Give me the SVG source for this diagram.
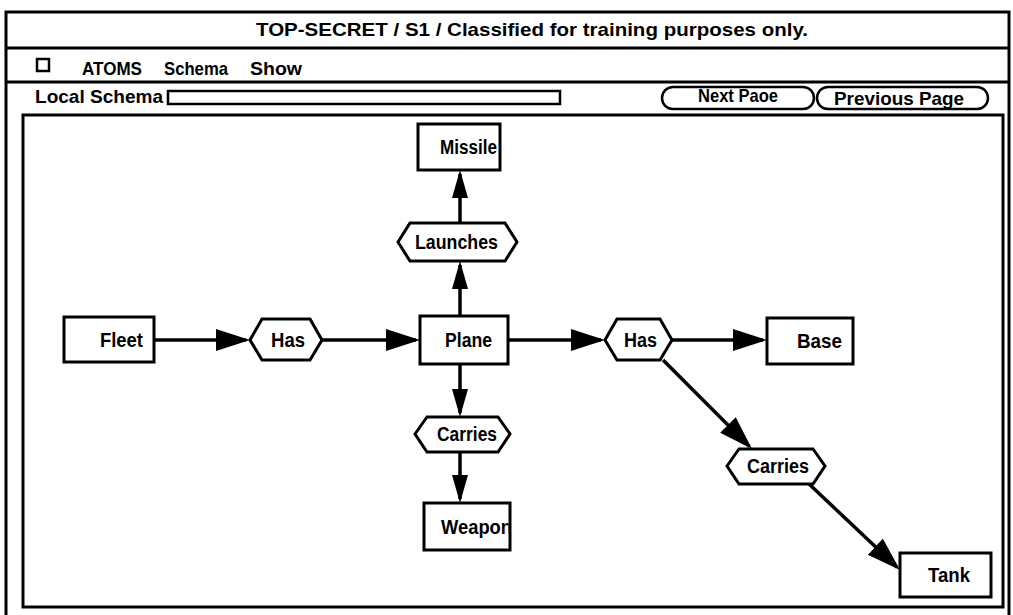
<svg xmlns="http://www.w3.org/2000/svg" width="1013" height="615" viewBox="0 0 1013 615">
<defs>
<style>
.frame{fill:none;stroke:#000;stroke-width:3}
.box{fill:#fff;stroke:#000;stroke-width:3}
.edge{fill:none;stroke:#000;stroke-width:3.5}
.t{font-family:"Liberation Sans",Arial,sans-serif;font-weight:bold;fill:#000}
.lbl{font-size:20px}
.ui{font-size:19px}
.ctl{fill:#fff;stroke:#000;stroke-width:2.5}
</style>
<marker id="big" markerUnits="userSpaceOnUse" markerWidth="36" markerHeight="24" refX="30" refY="11" orient="auto">
<path d="M0,0 L34,11 L0,22 z" fill="#000"/>
</marker>
<marker id="small" markerUnits="userSpaceOnUse" markerWidth="30" markerHeight="18" refX="24" refY="8" orient="auto">
<path d="M0,0 L28,8 L0,16 z" fill="#000"/>
</marker>
<clipPath id="clipWeapon"><rect x="424" y="503" width="84.5" height="47"/></clipPath>
</defs>
<rect width="1013" height="615" fill="#fff"/>

<g id="window">
<path class="frame" d="M6,615 V12 H1009 V615"/>
<line class="frame" x1="6" y1="48" x2="1009" y2="48"/>
<line class="frame" x1="6" y1="82" x2="1009" y2="82"/>
<text class="t ui" x="256" y="36" font-size="18" textLength="552" lengthAdjust="spacingAndGlyphs">TOP-SECRET / S1 / Classified for training purposes only.</text>
<rect class="ctl" x="37" y="59" width="12" height="12"/>
<text class="t ui" x="82" y="75" textLength="60" lengthAdjust="spacingAndGlyphs">ATOMS</text>
<text class="t ui" x="164" y="75" textLength="64" lengthAdjust="spacingAndGlyphs">Schema</text>
<text class="t ui" x="250" y="75" textLength="52" lengthAdjust="spacingAndGlyphs">Show</text>
<text class="t ui" x="35" y="103" textLength="128" lengthAdjust="spacingAndGlyphs">Local Schema</text>
<rect class="ctl" x="168" y="91" width="392" height="13"/>
<rect class="ctl" x="662" y="87" width="152" height="22" rx="11"/>
<text class="t ui" x="698" y="102" textLength="80" lengthAdjust="spacingAndGlyphs">Next Paoe</text>
<rect class="ctl" x="817" y="87" width="171" height="22" rx="11"/>
<text class="t ui" x="834" y="105" textLength="130" lengthAdjust="spacingAndGlyphs">Previous Page</text>
<rect class="frame" x="23" y="115" width="980" height="492"/>
</g>

<g id="connectors">
<line class="edge" x1="154" y1="340" x2="246" y2="340" marker-end="url(#big)"/>
<line class="edge" x1="322" y1="340" x2="416" y2="340" marker-end="url(#big)"/>
<line class="edge" x1="508" y1="340" x2="601" y2="340" marker-end="url(#big)"/>
<line class="edge" x1="672" y1="340" x2="763" y2="340" marker-end="url(#big)"/>
<line class="edge" x1="460" y1="316" x2="460" y2="265" marker-end="url(#small)"/>
<line class="edge" x1="460" y1="223" x2="460" y2="174" marker-end="url(#small)"/>
<line class="edge" x1="460" y1="364" x2="460" y2="413" marker-end="url(#small)"/>
<line class="edge" x1="460" y1="452" x2="460" y2="499" marker-end="url(#small)"/>
<line class="edge" x1="663" y1="360" x2="749.2" y2="446.2" marker-end="url(#big)"/>
<line class="edge" x1="808" y1="483" x2="897.1" y2="567.3" marker-end="url(#big)"/>
</g>

<g id="fleet">
<rect class="box" x="64" y="317" width="90" height="45"/>
<text class="t lbl" x="100" y="347" textLength="43" lengthAdjust="spacingAndGlyphs">Fleet</text>
</g>
<g id="has1">
<polygon class="box" points="250,340 262,319 310,319 322,340 310,360 262,360"/>
<text class="t lbl" x="271" y="347" textLength="34" lengthAdjust="spacingAndGlyphs">Has</text>
</g>
<g id="plane">
<rect class="box" x="420" y="316" width="88" height="48"/>
<text class="t lbl" x="445" y="347" textLength="47" lengthAdjust="spacingAndGlyphs">Plane</text>
</g>
<g id="launches">
<polygon class="box" points="398,242 410,223 505,223 517,242 505,261 410,261"/>
<text class="t lbl" x="415" y="249" textLength="83" lengthAdjust="spacingAndGlyphs">Launches</text>
</g>
<g id="missile">
<rect class="box" x="418" y="124" width="82" height="46"/>
<text class="t lbl" x="440" y="154" textLength="57" lengthAdjust="spacingAndGlyphs">Missile</text>
</g>
<g id="carries1">
<polygon class="box" points="415,434 427,417 498,417 510,434 498,452 427,452"/>
<text class="t lbl" x="437" y="441" textLength="60" lengthAdjust="spacingAndGlyphs">Carries</text>
</g>
<g id="weapon">
<rect class="box" x="424" y="503" width="86" height="47"/>
<text class="t lbl" x="441" y="534" textLength="71" lengthAdjust="spacingAndGlyphs" clip-path="url(#clipWeapon)">Weapon</text>
</g>
<g id="has2">
<polygon class="box" points="605,340 617,319 660,319 672,340 660,360 617,360"/>
<text class="t lbl" x="624" y="347" textLength="33" lengthAdjust="spacingAndGlyphs">Has</text>
</g>
<g id="base">
<rect class="box" x="767" y="318" width="86" height="46"/>
<text class="t lbl" x="797" y="348" textLength="45" lengthAdjust="spacingAndGlyphs">Base</text>
</g>
<g id="carries2">
<polygon class="box" points="727,466 739,449 813,449 825,466 813,484 739,484"/>
<text class="t lbl" x="747" y="473" textLength="62" lengthAdjust="spacingAndGlyphs">Carries</text>
</g>
<g id="tank">
<rect class="box" x="900" y="553" width="91" height="44"/>
<text class="t lbl" x="928" y="582" textLength="42" lengthAdjust="spacingAndGlyphs">Tank</text>
</g>
</svg>
